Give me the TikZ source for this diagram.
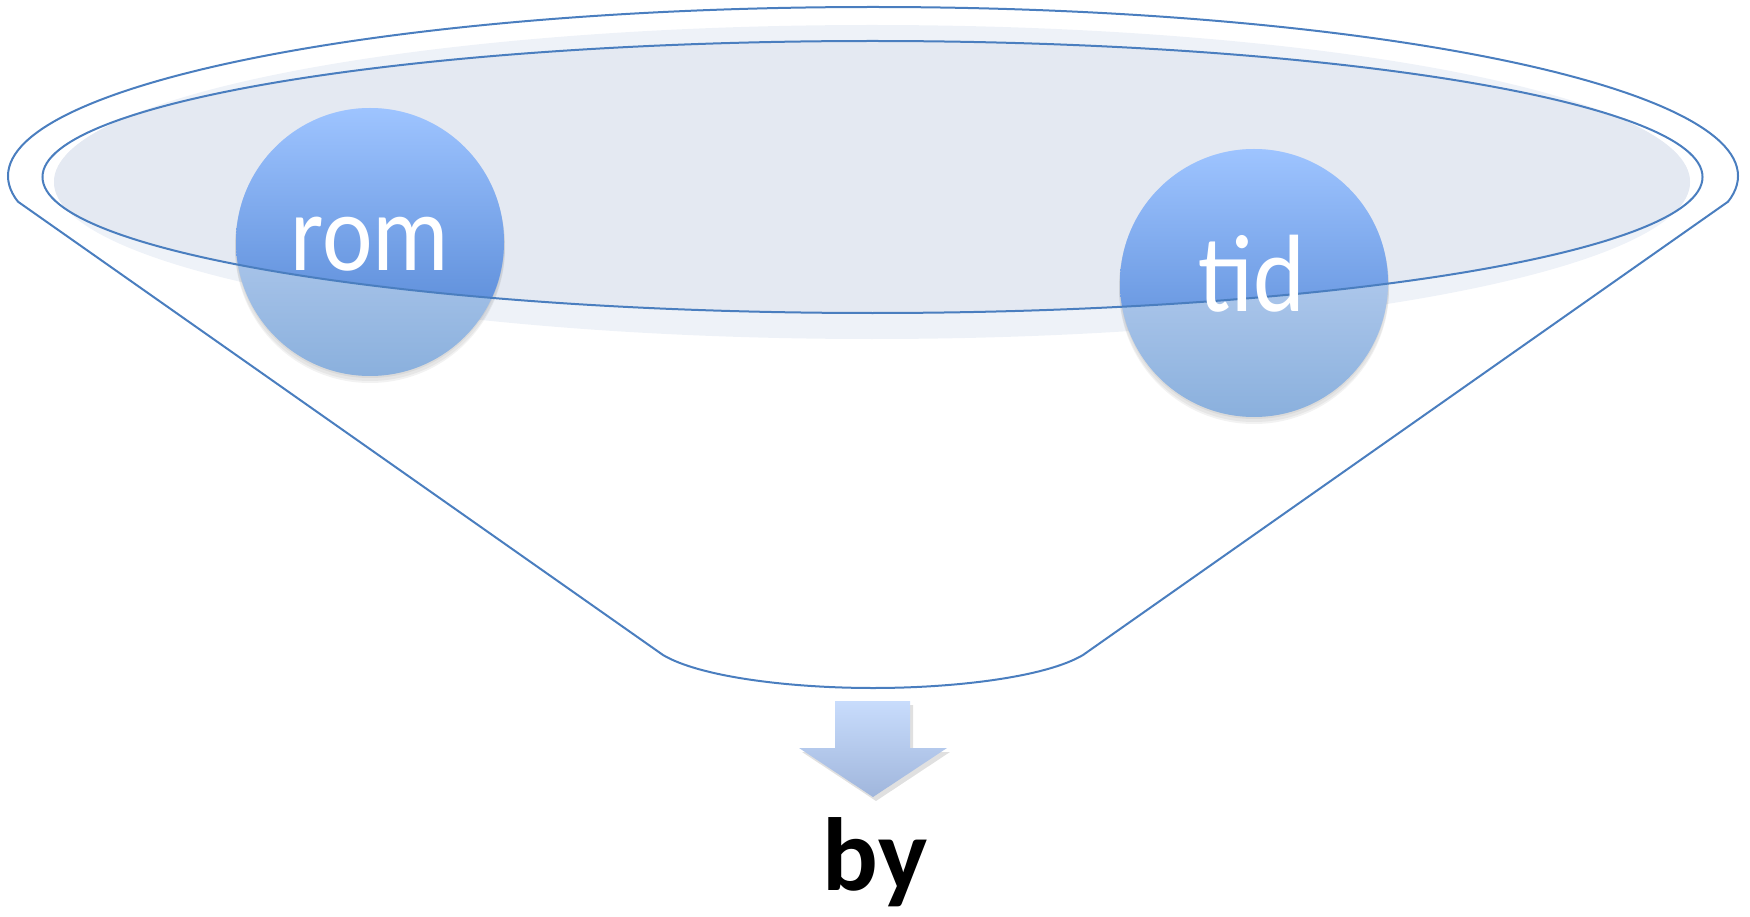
\documentclass[tikz,border=0pt]{standalone}
\usepackage{graphicx}
\usepackage{fontspec}
\setmainfont{Carlito}
\definecolor{lineblue}{HTML}{4A7EBF}
\definecolor{paleband}{HTML}{EEF2F8}
\definecolor{paleinner}{HTML}{E4E9F2}
\definecolor{uptop}{HTML}{9EC4FF}
\definecolor{upbot}{HTML}{4A7ECF}
\definecolor{lowtop}{RGB}{205,220,248}
\definecolor{lowbot}{HTML}{8AB0DD}
\definecolor{arrtop}{HTML}{C8DCFC}
\definecolor{arrbot}{HTML}{A0B6DC}
\begin{document}
\begin{tikzpicture}[x=1pt,y=-1pt,
  edge/.style={draw=lineblue, line width=2pt},
  bubbletext/.style={text=white, inner sep=0pt, anchor=base, font=\fontsize{110}{110}\selectfont},
  bubbleshadow/.style={fill=black, opacity=0.05},
  innerell/.style={insert path={(872.5,177) ellipse [x radius=830pt, y radius=136pt]}}
]
\useasboundingbox (0,0) rectangle (1750,917);
% pale band and inner tint
\fill[paleband] (872,182) ellipse [x radius=818pt, y radius=157pt];
\begin{scope}
  \clip[innerell];
  \fill[paleinner] (872,182) ellipse [x radius=818pt, y radius=157pt];
\end{scope}
% outer rim (top arc)
\begin{scope}
  \clip (0,0) rectangle (1750,201);
  \draw[edge] (873,176) ellipse [x radius=865pt, y radius=169pt];
\end{scope}
\coordinate (LK) at (17,201);
\coordinate (RK) at (1729,201);
\coordinate (BL) at (663,655);
\coordinate (BR) at (1083,655);
\coordinate (BM) at (873,688);
\draw[edge, line join=round] (LK) -- (BL) .. controls (700,677) and (790,688) .. (BM)
   .. controls (956,688) and (1046,677) .. (BR) -- (RK);
% bubbles
\foreach \dy/\r in {2/134,4/135,6/135}{
  \fill[bubbleshadow] (370,242+\dy) circle[radius=\r pt];
  \fill[bubbleshadow] (1254,283+\dy) circle[radius=\r pt];
}
\shade[top color=lowtop, bottom color=lowbot] (370,242) circle[radius=134pt];
\begin{scope}
  \clip[innerell];
  \shade[top color=uptop, bottom color=upbot] (370,242) circle[radius=134pt];
\end{scope}
\shade[top color=lowtop, bottom color=lowbot] (1254,283) circle[radius=134pt];
\begin{scope}
  \clip[innerell];
  \shade[top color=uptop, bottom color=upbot] (1254,283) circle[radius=134pt];
\end{scope}
% inner rim
\draw[edge] (872.5,177) ellipse [x radius=830pt, y radius=136pt];
% texts
\node[bubbletext] (rom) at (370,271) {\scalebox{0.87}[1]{rom}};
\node[bubbletext] (tid) at (1252,312) {\scalebox{0.9}[1]{tid}};
% arrow
\fill[black, opacity=0.12] (838,705) -- (913,705) -- (913,752) -- (950,752) -- (876,801) -- (802,752) -- (838,752) -- cycle;
\shade[top color=arrtop, bottom color=arrbot] (835,701) -- (910,701) -- (910,748) -- (947,748) -- (873,797) -- (799,748) -- (835,748) -- cycle;
\node[anchor=base, inner sep=0pt, font=\bfseries\fontsize{104}{104}\selectfont] (by) at (875,890) {by};
\end{tikzpicture}
\end{document}
